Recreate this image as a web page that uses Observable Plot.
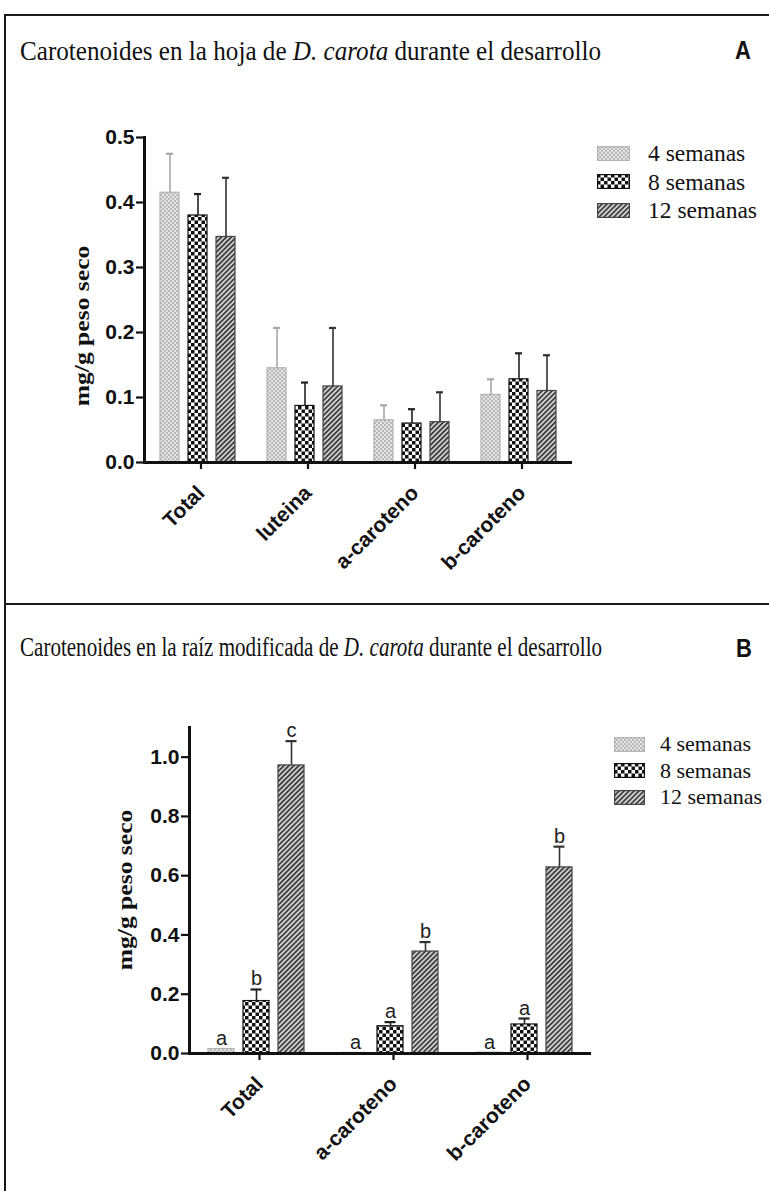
<!DOCTYPE html>
<html><head><meta charset="utf-8">
<script src="https://cdn.jsdelivr.net/npm/d3@7"></script>
<script src="https://cdn.jsdelivr.net/npm/@observablehq/plot@0.6"></script>
<style>
body{margin:0;background:#fff;}
#page{position:relative;width:769px;height:1191px;overflow:hidden;background:#fff;}
.line{position:absolute;background:#1a1a1a;}
.title{position:absolute;font-family:"Liberation Serif","Times New Roman",serif;font-size:24px;line-height:24px;white-space:nowrap;transform-origin:0 0;color:#111;}
.panel{position:absolute;font-family:"Liberation Sans","Arial",sans-serif;font-weight:bold;font-size:22px;line-height:22px;color:#111;transform:scaleY(1.15);transform-origin:0 0;}
.ylab{position:absolute;font-family:"Liberation Serif","Times New Roman",serif;font-weight:bold;font-size:20px;line-height:20px;white-space:nowrap;transform:translate(-50%,-50%) rotate(-90deg) scaleX(1.28);color:#111;}
.legrow{position:absolute;display:flex;align-items:center;white-space:nowrap;font-family:"Liberation Serif","Times New Roman",serif;line-height:24px;color:#111;}
.legrow svg{display:block;}
g[aria-label="y-axis tick label"] text{font-size:21px;}
</style></head><body>
<div id="page">
<svg width="0" height="0" style="position:absolute">
<defs>
<pattern id="pat4" width="4" height="4" patternUnits="userSpaceOnUse">
 <rect width="4" height="4" fill="#e4e4e4"/>
 <rect width="2" height="2" fill="#b9b9b9"/>
 <rect x="2" y="2" width="2" height="2" fill="#b9b9b9"/>
</pattern>
<pattern id="pat8" width="7" height="7" patternUnits="userSpaceOnUse">
 <rect width="7" height="7" fill="#fff"/>
 <rect width="3.5" height="3.5" fill="#111"/>
 <rect x="3.5" y="3.5" width="3.5" height="3.5" fill="#111"/>
</pattern>
<pattern id="pat12" width="3.5" height="3.5" patternUnits="userSpaceOnUse" patternTransform="rotate(45)">
 <rect width="3.5" height="3.5" fill="#cfcfcf"/>
 <line x1="0.8" y1="0" x2="0.8" y2="3.5" stroke="#333" stroke-width="1.6"/>
</pattern>
</defs>
</svg>
</div>
<script>
// ---------- data ----------
const series = ["4 semanas", "8 semanas", "12 semanas"];

const titleA = ["Carotenoides en la hoja de ", "D. carota", " durante el desarrollo"];
const categoriesA = ["Total", "luteina", "a-caroteno", "b-caroteno"];
const valuesA4  = [0.415, 0.145, 0.065, 0.104];
const errorsA4  = [0.060, 0.062, 0.023, 0.024];
const valuesA8  = [0.380, 0.087, 0.060, 0.128];
const errorsA8  = [0.033, 0.036, 0.022, 0.040];
const valuesA12 = [0.347, 0.117, 0.062, 0.110];
const errorsA12 = [0.091, 0.090, 0.046, 0.055];
const yTicksA = [0, 0.1, 0.2, 0.3, 0.4, 0.5];

const titleB = ["Carotenoides en la raíz modificada de ", "D. carota", " durante el desarrollo"];
const categoriesB = ["Total", "a-caroteno", "b-caroteno"];
const valuesB4  = [0.015, 0.002, 0.003];
const errorsB4  = [0, 0, 0];
const valuesB8  = [0.177, 0.092, 0.098];
const errorsB8  = [0.039, 0.014, 0.020];
const valuesB12 = [0.972, 0.344, 0.628];
const errorsB12 = [0.082, 0.032, 0.070];
const lettersB4  = ["a", "a", "a"];
const lettersB8  = ["b", "a", "a"];
const lettersB12 = ["c", "b", "b"];
const yTicksB = [0, 0.2, 0.4, 0.6, 0.8, 1.0];

const yLabel = "mg/g peso seco";

// ---------- styles ----------
const fillOf   = {"4 semanas": "url(#pat4)", "8 semanas": "url(#pat8)", "12 semanas": "url(#pat12)"};
const strokeOf = {"4 semanas": "#b3b3b3", "8 semanas": "#111", "12 semanas": "#444"};
const errOf    = {"4 semanas": "#a8a8a8", "8 semanas": "#222", "12 semanas": "#333"};

function rows(cats, vals, errs, letters) {
  return cats.flatMap((c, i) => series.map((s, j) => ({
    category: c, series: s, value: vals[j][i], err: errs[j][i],
    letter: letters ? letters[j][i] : null
  })));
}
const dataA = rows(categoriesA, [valuesA4, valuesA8, valuesA12], [errorsA4, errorsA8, errorsA12]);
const dataB = rows(categoriesB, [valuesB4, valuesB8, valuesB12], [errorsB4, errorsB8, errorsB12],
                   [lettersB4, lettersB8, lettersB12]);

const page = document.getElementById("page");
const sansFont = '"Liberation Sans",Arial,sans-serif';

function panel(data, cats, cfg) {
  const withErr = data.filter(d => d.err > 0);
  const marks = [
    Plot.barY(data, {fx: "category", x: "series", y: "value",
      fill: d => fillOf[d.series], stroke: d => strokeOf[d.series], strokeWidth: 1.2}),
    Plot.ruleX(withErr, {fx: "category", x: "series", y1: "value", y2: d => d.value + d.err,
      stroke: d => errOf[d.series], strokeWidth: 1.6}),
    Plot.tickY(withErr, {fx: "category", x: "series", y: d => d.value + d.err,
      stroke: d => errOf[d.series], strokeWidth: 2.2, insetLeft: cfg.capInset, insetRight: cfg.capInset}),
    Plot.ruleY([0], {stroke: "#111", strokeWidth: 3}),
    Plot.frame({anchor: "left", facetAnchor: "left", stroke: "#111", strokeWidth: 3}),
    Plot.axisY({ticks: cfg.yTicks, tickFormat: d3.format(".1f"), tickSize: 8, tickPadding: 2,
      strokeWidth: 2.2, label: null, fontSize: 21}),
    Plot.axisFx({anchor: "bottom", tickRotate: -45, tickSize: 7, tickPadding: 20, dx: 3,
      strokeWidth: 2.2, label: null, fontSize: 21})
  ];
  if (cfg.letters) {
    marks.push(Plot.text(data, {fx: "category", x: "series", y: d => d.value + d.err, text: "letter",
      lineAnchor: "bottom", dy: -4, fontSize: 20, fontWeight: "normal", fill: "#222"}));
  }
  return Plot.plot({
    width: 769, height: cfg.height,
    marginLeft: cfg.ml, marginRight: cfg.mr, marginTop: cfg.mt, marginBottom: cfg.mb,
    style: {fontFamily: sansFont, fontWeight: "bold", fontSize: "20px", color: "#111", background: "transparent", overflow: "visible"},
    fx: {domain: cats, padding: 0, label: null},
    x: {domain: series, paddingInner: cfg.pi, paddingOuter: cfg.po, axis: null},
    y: {domain: cfg.yDomain, label: null},
    color: {type: "identity"},
    marks
  });
}

function place(el, left, top) {
  el.style.position = "absolute"; el.style.left = left + "px"; el.style.top = top + "px";
  page.appendChild(el);
}

// frame lines
function line(l, t, w, h) { const d = document.createElement("div"); d.className = "line";
  d.style.left = l + "px"; d.style.top = t + "px"; d.style.width = w + "px"; d.style.height = h + "px"; page.appendChild(d); }
line(4, 14, 765, 2);
line(4, 14, 2, 1177);
line(4, 603, 765, 2);

// titles (fitted to the reference width, glyphs a bit taller)
function title(parts, top, targetW) {
  const d = document.createElement("div"); d.className = "title";
  parts.forEach((p, i) => { const s = document.createElement(i === 1 ? "i" : "span"); s.textContent = p; d.appendChild(s); });
  d.style.left = "20px"; d.style.top = top + "px";
  page.appendChild(d);
  const w = d.getBoundingClientRect().width;
  d.style.transform = `scale(${targetW / w}, 1.1)`;
}
title(titleA, 38, 581);
title(titleB, 634, 582);

function letter(t, l, top) { const d = document.createElement("div"); d.className = "panel"; d.textContent = t;
  d.style.left = l + "px"; d.style.top = top + "px"; page.appendChild(d); }
letter("A", 735, 38);
letter("B", 736, 636);

// plots
const plotA = panel(dataA, categoriesA, {height: 603, ml: 142, mr: 196, mt: 137, mb: 141,
  pi: 0.31, po: 0.51, yDomain: [0, 0.5], yTicks: yTicksA, capInset: 6});
place(plotA, 0, 0);
const plotB = panel(dataB, categoriesB, {height: 588, ml: 189, mr: 178, mt: 124, mb: 138,
  pi: 0.27, po: 0.53, yDomain: [0, 1.1], yTicks: yTicksB, capInset: 7.5, letters: true});
place(plotB, 0, 603);

// y labels
function ylab(x, y) { const d = document.createElement("div"); d.className = "ylab"; d.textContent = yLabel;
  d.style.left = x + "px"; d.style.top = y + "px"; page.appendChild(d); }
ylab(82, 326);
ylab(125, 890);

// legends
function legend(left, top, textLeft, swW, swH, gap, fontSize) {
  series.forEach((s, i) => {
    const row = document.createElement("div"); row.className = "legrow";
    row.style.fontSize = fontSize + "px";
    row.style.left = left + "px"; row.style.top = (top + i * gap) + "px";
    const ns = "http://www.w3.org/2000/svg";
    const svg = document.createElementNS(ns, "svg");
    svg.setAttribute("width", swW); svg.setAttribute("height", swH);
    const r = document.createElementNS(ns, "rect");
    r.setAttribute("x", 0.6); r.setAttribute("y", 0.6); r.setAttribute("width", swW - 1.2); r.setAttribute("height", swH - 1.2);
    r.setAttribute("fill", fillOf[s]); r.setAttribute("stroke", strokeOf[s]); r.setAttribute("stroke-width", 1.2);
    svg.appendChild(r); row.appendChild(svg);
    const t = document.createElement("span"); t.textContent = s; t.style.marginLeft = (textLeft - left - swW) + "px";
    row.appendChild(t);
    page.appendChild(row);
  });
}
legend(597, 141, 648, 33, 15, 28.5, 23.5);
legend(614, 732, 660, 31, 15, 26.5, 22);
</script>
</body></html>
